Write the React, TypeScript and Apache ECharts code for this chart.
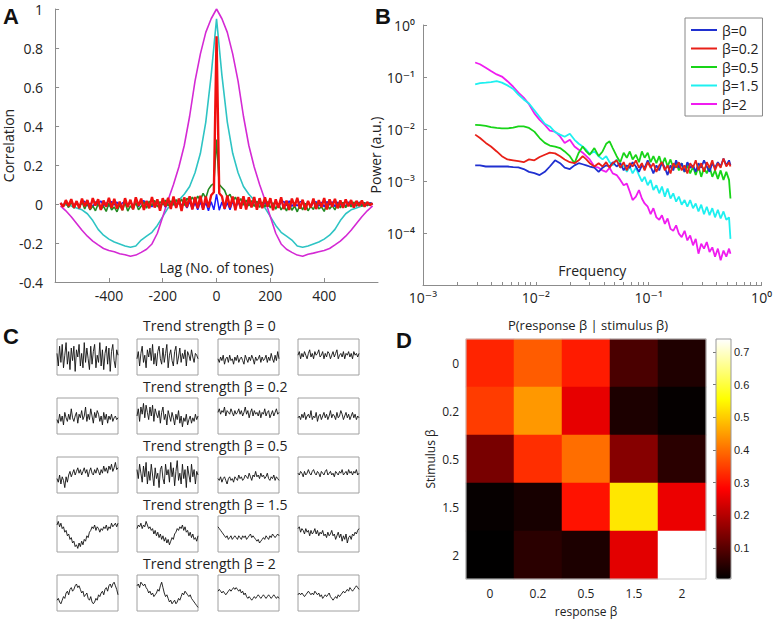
import React, { useEffect, useRef } from 'react';
import * as echarts from 'echarts';

// ---------- Panel A: autocorrelation ----------
const lagsCoarse = [
  -580, -560, -540, -520, -500, -480, -460, -440, -420, -400,
  -380, -360, -340, -320, -300, -280, -260, -240, -220, -200,
  -180, -160, -140, -120, -100, -80, -60, -40, -20,
  0,
  20, 40, 60, 80, 100, 120, 140, 160, 180,
  200, 220, 240, 260, 280, 300, 320, 340, 360, 380,
  400, 420, 440, 460, 480, 500, 520, 540, 560, 580,
];
const lagsFine = [
  -580, -570, -560, -550, -540, -530, -520, -510, -500, -490,
  -480, -470, -460, -450, -440, -430, -420, -410, -400, -390,
  -380, -370, -360, -350, -340, -330, -320, -310, -300, -290,
  -280, -270, -260, -250, -240, -230, -220, -210, -200, -190,
  -180, -170, -160, -150, -140, -130, -120, -110, -100, -90,
  -80, -70, -60, -50, -40, -30, -20, -10,
  0,
  10, 20, 30, 40, 50, 60, 70, 80,
  90, 100, 110, 120, 130, 140, 150, 160, 170, 180,
  190, 200, 210, 220, 230, 240, 250, 260, 270, 280,
  290, 300, 310, 320, 330, 340, 350, 360, 370, 380,
  390, 400, 410, 420, 430, 440, 450, 460, 470, 480,
  490, 500, 510, 520, 530, 540, 550, 560, 570, 580,
];
const acfBeta2 = [
  -0.010, -0.035, -0.065, -0.100, -0.135, -0.165, -0.190, -0.210, -0.228, -0.238,
  -0.245, -0.255, -0.260, -0.268, -0.262, -0.248, -0.232, -0.205, -0.150, -0.065,
  0.020, 0.100, 0.190, 0.300, 0.450, 0.630, 0.770, 0.880, 0.950,
  1.0,
  0.950, 0.880, 0.770, 0.630, 0.450, 0.300, 0.190, 0.100, 0.020,
  -0.065, -0.150, -0.205, -0.232, -0.248, -0.262, -0.268, -0.258, -0.252, -0.245,
  -0.238, -0.228, -0.210, -0.190, -0.165, -0.135, -0.100, -0.065, -0.035, -0.010,
];
const acfBeta15 = [
  0.000, -0.005, -0.010, -0.020, -0.030, -0.050, -0.085, -0.130, -0.160, -0.180,
  -0.195, -0.205, -0.215, -0.222, -0.215, -0.185, -0.165, -0.145, -0.110, -0.065,
  -0.020, 0.000, 0.020, 0.050, 0.090, 0.160, 0.260, 0.420, 0.660,
  0.950,
  0.660, 0.420, 0.260, 0.160, 0.090, 0.050, 0.020, 0.000, -0.020,
  -0.065, -0.110, -0.145, -0.165, -0.185, -0.215, -0.222, -0.215, -0.205, -0.195,
  -0.180, -0.160, -0.130, -0.085, -0.050, -0.030, -0.020, -0.010, -0.005, 0.000,
];
const acfBeta0 = [
  0.005, -0.010, 0.012, -0.004, 0.015, -0.008, 0.010, -0.012, 0.006, 0.014,
  -0.010, 0.004, -0.015, 0.011, -0.003, 0.016, -0.009, 0.007, -0.012, 0.013,
  -0.005, 0.010, -0.014, 0.006, 0.012, -0.008, 0.015, -0.011, 0.004, -0.013,
  0.009, 0.017, -0.006, 0.011, -0.015, 0.005, 0.013, -0.010, 0.008, -0.016,
  0.012, -0.004, 0.010, -0.018, 0.014, -0.007, 0.009, -0.020, 0.012, -0.025,
  0.006, -0.030, 0.010, -0.028, 0.008, -0.035, 0.012, -0.030,
  0.05,
  -0.032, 0.010, -0.027, 0.007, -0.030, 0.013, -0.022, 0.009,
  -0.018, 0.015, -0.010, 0.006, -0.014, 0.012, -0.006, 0.016, -0.011, 0.008,
  -0.013, 0.014, -0.004, 0.010, -0.015, 0.007, 0.013, -0.009, 0.016, -0.012,
  0.005, -0.010, 0.011, 0.015, -0.007, 0.010, -0.014, 0.006, 0.012, -0.011,
  0.009, -0.015, 0.013, -0.005, 0.011, -0.013, 0.010, -0.007, 0.008, -0.012,
  0.011, -0.009, 0.006, -0.011, 0.010, -0.007, 0.008, -0.009, 0.006, 0.002,
];
const acfBeta05 = [
  0.004, -0.012, 0.008, -0.018, 0.010, -0.022, 0.006, -0.015, 0.012, -0.025,
  0.005, -0.030, -0.010, -0.035, 0.000, -0.028, -0.012, -0.038, 0.004, -0.030,
  -0.015, -0.040, -0.005, -0.032, 0.006, -0.036, -0.010, -0.025, 0.008, -0.030,
  -0.012, 0.010, -0.022, 0.015, -0.008, 0.018, -0.015, 0.012, -0.004, 0.020,
  -0.010, 0.016, -0.006, 0.022, 0.000, 0.025, -0.008, 0.030, 0.012, 0.035,
  0.010, 0.040, 0.020, 0.055, 0.030, 0.075, 0.095, 0.105,
  0.33,
  0.100, 0.085, 0.070, 0.035, 0.050, 0.015, 0.035, 0.005,
  0.028, -0.006, 0.020, -0.010, 0.018, -0.012, 0.014, -0.018, 0.010, -0.015,
  0.012, -0.020, 0.006, -0.026, 0.004, -0.030, -0.008, -0.036, 0.002, -0.032,
  -0.010, -0.040, -0.004, -0.030, 0.004, -0.035, -0.012, -0.028, 0.006, -0.025,
  -0.015, -0.038, 0.002, -0.026, -0.008, -0.030, 0.005, -0.020, 0.008, -0.018,
  0.006, -0.014, 0.010, -0.010, 0.008, -0.012, 0.006, -0.008, 0.004, 0.000,
];
const acfBeta02 = [
  0.006, -0.015, 0.020, -0.010, 0.025, -0.018, 0.015, -0.022, 0.028, -0.012,
  0.020, -0.026, 0.030, -0.008, 0.024, -0.030, 0.018, -0.014, 0.032, -0.020,
  0.026, -0.024, 0.012, -0.032, 0.030, -0.016, 0.022, -0.028, 0.034, -0.010,
  0.028, -0.030, 0.016, -0.022, 0.036, -0.018, 0.024, -0.034, 0.030, -0.012,
  0.032, -0.026, 0.038, -0.020, 0.028, -0.036, 0.034, -0.016, 0.040, -0.028,
  0.036, -0.022, 0.042, -0.030, 0.038, -0.018, 0.045, 0.060,
  0.86,
  0.055, 0.040, -0.025, 0.044, -0.018, 0.038, -0.032, 0.036,
  -0.024, 0.040, -0.028, 0.034, -0.018, 0.036, -0.030, 0.030, -0.022, 0.034,
  -0.014, 0.030, -0.032, 0.024, -0.020, 0.034, -0.026, 0.018, -0.030, 0.028,
  -0.012, 0.032, -0.024, 0.022, -0.030, 0.016, -0.018, 0.028, -0.026, 0.020,
  -0.016, 0.030, -0.028, 0.024, -0.014, 0.026, -0.022, 0.018, -0.020, 0.024,
  -0.012, 0.020, -0.018, 0.016, -0.010, 0.018, -0.014, 0.010, -0.006, 0.004,
];

// ---------- Panel B: power spectra ----------
const freqs = [
  0.0029, 0.0032, 0.0036, 0.0040, 0.0045, 0.0050, 0.0056, 0.0063, 0.0070, 0.0078,
  0.0087, 0.0097, 0.0108, 0.012, 0.0133, 0.0148, 0.0164, 0.018, 0.020, 0.022,
  0.024, 0.026, 0.028, 0.030, 0.033, 0.036, 0.039, 0.042, 0.045, 0.048,
  0.052, 0.056, 0.060, 0.064, 0.068, 0.072, 0.077, 0.082, 0.087, 0.092,
  0.098, 0.104, 0.11, 0.117, 0.124, 0.131, 0.139, 0.147, 0.156, 0.165,
  0.175, 0.185, 0.196, 0.208, 0.22, 0.233, 0.247, 0.261, 0.276, 0.292,
  0.309, 0.327, 0.346, 0.366, 0.387, 0.41, 0.434, 0.46, 0.487, 0.515, 0.53,
];
const powBeta2 = [
  0.19, 0.176, 0.151, 0.13, 0.112, 0.102, 0.083, 0.065, 0.050, 0.040,
  0.030, 0.020, 0.015, 0.012, 0.0093, 0.0089, 0.0072, 0.0054, 0.0062, 0.0046,
  0.0040, 0.0035, 0.0030, 0.0026, 0.0019, 0.0018, 0.0016, 0.0015, 0.0018, 0.0014,
  0.0013, 0.00105, 0.00083, 0.00089, 0.00062, 0.00043, 0.00050, 0.00067, 0.00046, 0.00037,
  0.00032, 0.00023, 0.00030, 0.00020, 0.00018, 0.00022, 0.00015, 0.00019, 0.00012, 0.00011,
  0.00014, 9.7e-5, 8.3e-5, 1.1e-4, 7.2e-5, 9.0e-5, 5.8e-5, 7.7e-5, 4.0e-5, 6.2e-5,
  5.0e-5, 6.7e-5, 4.3e-5, 5.3e-5, 3.5e-5, 5.0e-5, 3.0e-5, 4.6e-5, 3.5e-5, 5.0e-5, 4.0e-5,
];
const powBeta15 = [
  0.072, 0.076, 0.078, 0.080, 0.083, 0.078, 0.069, 0.059, 0.046, 0.037,
  0.031, 0.023, 0.017, 0.0126, 0.0112, 0.0087, 0.0078, 0.0071, 0.0081, 0.0062,
  0.0052, 0.0046, 0.0040, 0.0033, 0.0037, 0.0030, 0.0026, 0.0030, 0.0023, 0.0020,
  0.0026, 0.0018, 0.0020, 0.0015, 0.0019, 0.0014, 0.0018, 0.0013, 0.00098, 0.0012,
  0.00083, 0.00105, 0.00067, 0.00083, 0.00058, 0.00078, 0.00050, 0.00072, 0.00046, 0.00058,
  0.00040, 0.00050, 0.00035, 0.00043, 0.00032, 0.00043, 0.00030, 0.00037, 0.00026, 0.00035,
  0.00023, 0.00032, 0.00022, 0.00030, 0.00020, 0.00028, 0.00019, 0.00026, 0.00018, 0.00020, 7.7e-5,
];
const powBeta05 = [
  0.012, 0.0119, 0.0115, 0.0109, 0.0105, 0.0103, 0.0103, 0.0106, 0.0112, 0.0112,
  0.0105, 0.0089, 0.0067, 0.0054, 0.0048, 0.0046, 0.0043, 0.0037, 0.0030, 0.0022,
  0.0035, 0.0046, 0.0037, 0.0032, 0.0043, 0.0030, 0.0037, 0.0052, 0.0058, 0.0043,
  0.0030, 0.0023, 0.0035, 0.0028, 0.0037, 0.0026, 0.0032, 0.0023, 0.0037, 0.0028,
  0.0035, 0.0023, 0.0030, 0.0022, 0.0030, 0.0020, 0.0028, 0.0019, 0.0026, 0.0018,
  0.0023, 0.0016, 0.0022, 0.0015, 0.0020, 0.0014, 0.0019, 0.0013, 0.0019, 0.0012,
  0.0018, 0.0014, 0.0019, 0.0012, 0.0016, 0.0011, 0.0016, 0.00105, 0.0015, 0.00105, 0.00046,
];
const powBeta02 = [
  0.0078, 0.0067, 0.0054, 0.0046, 0.0037, 0.0030, 0.0026, 0.0025, 0.0024, 0.0023,
  0.0026, 0.0025, 0.0029, 0.0032, 0.0035, 0.0034, 0.0030, 0.0026, 0.0023, 0.0022,
  0.0025, 0.0030, 0.0026, 0.0022, 0.0019, 0.0022, 0.0019, 0.0023, 0.0018, 0.0022,
  0.0025, 0.0018, 0.0023, 0.0016, 0.0022, 0.0019, 0.0025, 0.0018, 0.0022, 0.0016,
  0.0023, 0.0018, 0.0022, 0.0015, 0.0020, 0.0023, 0.0016, 0.0020, 0.0014, 0.0022,
  0.0018, 0.0023, 0.0016, 0.0020, 0.0014, 0.0022, 0.0018, 0.0025, 0.0016, 0.0022,
  0.0015, 0.0023, 0.0018, 0.0025, 0.0016, 0.0022, 0.0018, 0.0027, 0.0019, 0.0023, 0.0019,
];
const powBeta0 = [
  0.0020, 0.0020, 0.0019, 0.0019, 0.0019, 0.0019, 0.0019, 0.00185, 0.00183, 0.0017,
  0.0015, 0.00142, 0.0013, 0.0015, 0.0019, 0.0025, 0.0022, 0.0018, 0.0017, 0.0020,
  0.0022, 0.0021, 0.0020, 0.0019, 0.0018, 0.0015, 0.0018, 0.0020, 0.0019, 0.0023,
  0.0019, 0.0022, 0.0016, 0.0020, 0.0018, 0.0023, 0.0019, 0.0015, 0.0020, 0.0018,
  0.0025, 0.0019, 0.0014, 0.0020, 0.0016, 0.0023, 0.0018, 0.0013, 0.0020, 0.0016,
  0.0025, 0.0018, 0.0022, 0.0015, 0.0023, 0.0018, 0.0020, 0.0015, 0.0022, 0.0018,
  0.0025, 0.0019, 0.0015, 0.0022, 0.0018, 0.0023, 0.0019, 0.0027, 0.0020, 0.0025, 0.0020,
];
const freqMinorTicks = [
  0.001, 0.002, 0.003, 0.004, 0.005, 0.006, 0.007, 0.008, 0.009,
  0.01, 0.02, 0.03, 0.04, 0.05, 0.06, 0.07, 0.08, 0.09,
  0.1, 0.2, 0.3, 0.4, 0.5, 0.6, 0.7, 0.8, 0.9, 1,
];
const betaNames = ['β=0', 'β=0.2', 'β=0.5', 'β=1.5', 'β=2'];

// ---------- Panel C: example sequences ----------
const trendTitles = [
  'Trend strength β = 0',
  'Trend strength β = 0.2',
  'Trend strength β = 0.5',
  'Trend strength β = 1.5',
  'Trend strength β = 2',
];
const seqBeta0 = [
  [2, -5, 6, -3, 7, -6, 1, 8, -4, 3, -7, 5, -2, 6, -8, 4, 0, 7, -5, 2, -6, 8, -3, 5, -1, -7, 6, -4, 3, 7, -6, 1, -3, 8, -5, 4, -7, 2, 6, -4, 5, -8, 3, 7, -2, -6, 4, 1],
  [-1, 3, -5, 2, 6, -3, 1, -6, 4, 0, 5, -2, 7, -4, 2, -5, 3, 6, -1, -4, 5, -3, 2, 7, -6, 1, 4, -2, -5, 3, 6, -4, 0, 5, -3, 2, -1, 4, -5, 3, 1, -2, 4, 0, -3, 2, 1, -1],
  [-1, -3, 0, -2, 1, -4, -1, 0, -3, 1, -2, -1, -4, 0, -2, 1, -3, -1, 0, -2, -4, 1, -1, -3, 0, -2, 1, -1, -4, 0, -2, -1, 1, -3, 0, -2, -1, 1, -3, 0, -2, 2, -1, -3, 1, -2, 3, -1],
  [1, 3, -1, 2, 0, 3, 1, -1, 2, 4, 0, 2, -1, 3, 1, 2, 4, 0, 1, 3, -1, 2, 0, 3, 2, -1, 1, 3, 0, 2, 4, -1, 1, 2, 0, 3, -1, 2, 1, 3, 0, 2, -1, 3, 1, 2, 0, 2],
];
const seqBeta02 = [
  [-2, -4, 1, -3, 0, -5, 2, -1, -3, 1, -2, 4, -1, -3, 0, 2, -4, 1, -1, 3, -2, 0, 5, -3, 1, -2, 4, 0, -4, 2, -1, 3, 1, -3, 0, -5, 2, -2, 1, -4, 0, -2, 1, -3, -1, 0, -2, -1],
  [0, 4, -3, 5, 1, 7, -1, 6, 2, -2, 5, 0, 6, -3, 4, 1, -1, 3, -4, 2, 5, -2, 1, -5, 3, 0, -3, 2, -1, -5, 1, -2, 3, -4, 0, -6, -1, -3, 1, -5, -2, 0, -4, -1, -3, 1, -2, 0],
  [2, 4, 1, 3, 2, 5, 0, 3, 2, 1, 4, 2, 0, 3, 1, 2, 4, 1, 3, 0, 2, 5, 1, 3, -1, 2, 4, 0, 3, 1, 2, 0, 3, -1, 2, 1, 4, 0, 2, 3, -1, 1, 3, 0, 2, 4, 1, 2],
  [-1, 0, -2, 1, -1, 2, -2, 0, 1, -1, 3, -2, 0, -1, 2, -3, 0, 1, -2, 0, 2, -1, 1, -2, 0, 3, -1, 1, 0, -2, 2, -1, 0, 3, 1, -2, 0, 2, -1, 1, -2, 0, 2, -1, 1, -2, 0, -1],
];
const seqBeta05 = [
  [-2, -4, 0, -5, -1, -3, -7, -1, -4, 0, 2, -1, 1, 3, 0, 2, 4, 1, 3, 0, 2, 4, 1, 3, -1, 2, 4, 1, 0, 3, 1, 4, 2, 0, 3, 1, 5, 2, 4, 1, 5, 3, 6, 2, 4, 7, 3, 4],
  [3, -2, 6, 1, -4, 5, -1, 7, -5, 2, -3, 6, 0, -6, 4, -2, 1, -7, 3, 5, -2, -5, 6, 0, 3, -4, 7, -1, 4, -6, 2, 8, -3, 1, -5, 6, -2, 3, -7, 5, 0, -4, 6, -1, 3, -5, 2, 0],
  [-2, -3, -1, -4, -2, -1, -3, -5, -2, -1, -3, -2, -4, -1, -2, -3, 0, -2, -1, -3, -2, 0, -1, -2, 1, -1, -3, 0, -1, 2, -1, 0, -2, 1, -1, 0, -2, -1, 1, -2, -3, -1, -2, 0, -3, -1, -2, -3],
  [1, 0, 2, 1, -1, 2, 0, 1, 3, 1, 0, 2, 3, 1, 0, 2, 1, -1, 2, 1, 0, 2, 3, 0, 1, 2, 0, 1, -1, 2, 1, 0, 2, 1, 3, 0, 1, 2, 0, 3, 1, 2, 0, 2, 1, 3, 0, 1],
];
const seqBeta15 = [
  [5, 7, 4, 6, 3, 4, 1, 2, -1, 0, -3, -2, -5, -4, -7, -6, -8, -5, -7, -4, -6, -3, -4, -1, -2, 1, 2, 4, 3, 5, 2, 4, 3, 1, 3, 2, 4, 3, 5, 2, 4, 3, 6, 4, 5, 6, 4, 6],
  [3, 5, 4, 6, 3, 5, 4, 7, 5, 3, 4, 2, 3, 0, 2, -1, 1, -2, 0, -3, -1, -4, -2, -5, -3, -6, -4, -2, -3, 0, 1, 3, 2, 4, 3, 5, 2, 4, 1, 2, -1, 1, -2, 0, -3, -2, -4, -1],
  [4, 3, 2, 1, 0, -1, -2, -1, -3, -2, -1, -3, -2, -1, -2, -3, -1, -2, -3, -1, -2, -1, -3, -2, -1, 0, -2, -1, -2, -3, -4, -3, -5, -4, -3, -2, -3, -1, -2, -3, -1, -2, 0, -1, -2, -1, 0, -1],
  [3, 4, 1, 3, 2, 0, 3, 1, 2, -1, 2, 0, 1, 3, 0, 2, -1, 1, 0, 2, -1, 0, -2, 1, -1, 0, 2, -1, 0, -3, -1, 1, -2, 0, -4, -1, -3, 0, -5, -2, -1, -3, 0, -1, 1, 0, 2, 3],
];
const seqBeta2 = [
  [-4, -3, -5, -6, -4, -2, -3, 0, 1, -1, 2, 3, 1, 2, 4, 5, 3, 4, 2, 0, 1, -2, -1, 0, -3, -4, -2, -5, -6, -5, -3, -4, -1, -2, 0, 1, -1, 2, 3, 1, 4, 5, 3, 5, 6, 4, 2, -1],
  [4, 5, 3, 6, 5, 4, 5, 3, 2, 0, 1, -1, 0, -2, -1, 0, 2, 1, 4, 6, 3, 0, -2, -1, -3, -5, -4, -6, -5, -4, -6, -5, -3, -4, -2, 0, -1, 1, 0, -1, -2, -1, -3, -4, -5, -6, -7, -8],
  [1, 2, 1, 0, 1, 0, -1, 0, 1, 2, 1, 2, 3, 2, 3, 2, 1, 2, 0, 1, -1, 0, -2, -3, -2, -3, -4, -3, -2, -3, -2, -1, -2, -3, -2, -1, -2, -3, -2, -1, -2, -3, -2, -1, -2, -3, -2, -3],
  [-1, 0, -1, 0, -1, -2, -1, 0, 1, 0, -1, 0, -1, 1, 0, -1, 0, -2, -1, -3, -2, -1, -2, -1, 0, -2, -3, -4, -3, -2, -3, -1, -2, -1, 0, 1, 0, 1, 2, 1, 3, 2, 1, 2, 3, 4, 3, 2],
];

// ---------- Panel D: confusion matrix ----------
const responseLabels = ['0', '0.2', '0.5', '1.5', '2'];
const stimulusLabels = ['0', '0.2', '0.5', '1.5', '2'];
const probStim0 = [0.32, 0.38, 0.31, 0.085, 0.038];
const probStim02 = [0.345, 0.445, 0.255, 0.035, 0.01];
const probStim05 = [0.135, 0.33, 0.40, 0.15, 0.05];
const probStim15 = [0.012, 0.03, 0.30, 0.53, 0.26];
const probStim2 = [0.006, 0.05, 0.035, 0.25, 0.74];
const colorbarTicks = [0.1, 0.2, 0.3, 0.4, 0.5, 0.6, 0.7];

const FONT = '"Open Sans", "DejaVu Sans", sans-serif';
const AX = '#8c8c8c';
const TXT = '#222';
const HOT = ['#000000', '#550000', '#aa0000', '#ff0000', '#ff5500', '#ffaa00', '#ffff00', '#ffff80', '#ffffff'];

const SUP: Record<string, string> = { '-': '⁻', '0': '⁰', '1': '¹', '2': '²', '3': '³', '4': '⁴', '5': '⁵', '6': '⁶', '7': '⁷', '8': '⁸', '9': '⁹' };
function supLabel(v: number) {
  const e = Math.round(Math.log10(v));
  return '10' + String(e).split('').map((c) => SUP[c] || c).join('');
}

function buildOption() {
  const grids: any[] = [];
  const xAxes: any[] = [];
  const yAxes: any[] = [];
  const series: any[] = [];

  // Panel A
  grids.push({ left: 54, top: 9, width: 324, height: 273 });
  xAxes.push({
    type: 'value', gridIndex: 0, min: -600, max: 600, interval: 200,
    axisLine: { show: true, onZero: false, lineStyle: { color: AX } },
    axisTick: { show: true, inside: true, length: 4, lineStyle: { color: AX } },
    axisLabel: { fontSize: 14, color: TXT, margin: 6, showMinLabel: false, showMaxLabel: false, fontFamily: FONT },
    splitLine: { show: false },
    name: 'Lag (No. of tones)', nameLocation: 'middle', nameGap: -22,
    nameTextStyle: { fontSize: 14, color: TXT, fontFamily: FONT },
  });
  yAxes.push({
    type: 'value', gridIndex: 0, min: -0.4, max: 1, interval: 0.2,
    axisLine: { show: true, onZero: false, lineStyle: { color: AX } },
    axisTick: { show: true, inside: true, length: 4, lineStyle: { color: AX } },
    axisLabel: { fontSize: 14, color: TXT, margin: 12, fontFamily: FONT },
    splitLine: { show: false },
    name: 'Correlation', nameLocation: 'middle', nameGap: 34,
    nameTextStyle: { fontSize: 14, color: TXT, fontFamily: FONT },
  });
  const aLine = (name: string, lags: number[], vals: number[], color: string, width: number) => ({
    type: 'line', name, xAxisIndex: 0, yAxisIndex: 0, symbol: 'none', showSymbol: false,
    lineStyle: { color, width }, itemStyle: { color },
    data: lags.map((l, i) => [l, vals[i]]),
  });
  series.push(aLine('A β=1.5', lagsCoarse, acfBeta15, '#2ec4c4', 1.6));
  series.push(aLine('A β=2', lagsCoarse, acfBeta2, '#d42ad4', 1.6));
  series.push(aLine('A β=0', lagsFine, acfBeta0, '#1a1aff', 1.5));
  series.push(aLine('A β=0.5', lagsFine, acfBeta05, '#238b23', 1.6));
  series.push(aLine('A β=0.2', lagsFine, acfBeta02, '#f01010', 2.4));

  // Panel B
  grids.push({ left: 423, top: 25, width: 346, height: 260 });
  xAxes.push({
    type: 'log', gridIndex: 1, min: 0.001, max: 1, logBase: 10,
    axisLine: { show: true, onZero: false, lineStyle: { color: AX } },
    axisTick: { show: true, inside: true, length: 3, lineStyle: { color: AX }, customValues: freqMinorTicks },
    axisLabel: { fontSize: 14, color: TXT, margin: 5, formatter: supLabel, fontFamily: FONT },
    splitLine: { show: false },
    name: 'Frequency', nameLocation: 'middle', nameGap: -22,
    nameTextStyle: { fontSize: 14, color: TXT, fontFamily: FONT },
  });
  yAxes.push({
    type: 'log', gridIndex: 1, min: 0.00001, max: 1, logBase: 10,
    axisLine: { show: true, onZero: false, lineStyle: { color: AX } },
    axisTick: { show: true, inside: true, length: 4, lineStyle: { color: AX } },
    axisLabel: { fontSize: 14, color: TXT, margin: 8, formatter: supLabel, fontFamily: FONT, showMinLabel: false },
    splitLine: { show: false },
    name: 'Power (a.u.)', nameLocation: 'middle', nameGap: 38,
    nameTextStyle: { fontSize: 14, color: TXT, fontFamily: FONT },
  });
  const bLine = (name: string, vals: number[], color: string) => ({
    type: 'line', name, xAxisIndex: 1, yAxisIndex: 1, symbol: 'none', showSymbol: false,
    lineStyle: { color, width: 1.8 }, itemStyle: { color },
    data: freqs.map((f, i) => [f, vals[i]]),
  });
  series.push(bLine('β=2', powBeta2, '#f01cf0'));
  series.push(bLine('β=1.5', powBeta15, '#1ef0f0'));
  series.push(bLine('β=0.5', powBeta05, '#18d418'));
  series.push(bLine('β=0', powBeta0, '#2030d0'));
  series.push(bLine('β=0.2', powBeta02, '#e82018'));

  // Panel C
  const rows = [seqBeta0, seqBeta02, seqBeta05, seqBeta15, seqBeta2];
  const colLeft = [57, 137, 218, 298];
  const rowTop = [339, 398, 457, 516, 575];
  rows.forEach((row, r) => {
    row.forEach((seq, c) => {
      const g = grids.length;
      grids.push({ left: colLeft[c], top: rowTop[r], width: 61, height: 36, show: true, borderColor: '#a0a0a0', borderWidth: 1, backgroundColor: '#fff' });
      xAxes.push({ type: 'value', gridIndex: g, min: 0, max: seq.length - 1, show: false });
      yAxes.push({ type: 'value', gridIndex: g, min: -10, max: 10, show: false });
      series.push({
        type: 'line', name: 'C' + r + c, xAxisIndex: g, yAxisIndex: g, symbol: 'none', showSymbol: false,
        lineStyle: { color: '#111', width: 0.9 },
        data: seq.map((v, i) => [i, v]),
      });
    });
  });

  // Panel D
  const gD = grids.length;
  grids.push({ left: 466, top: 339, width: 240, height: 240 });
  xAxes.push({
    type: 'category', gridIndex: gD, data: responseLabels,
    axisLine: { show: false }, axisTick: { show: false },
    axisLabel: { fontSize: 12, color: TXT, margin: 8, fontFamily: FONT },
    splitLine: { show: false },
    name: 'response β', nameLocation: 'middle', nameGap: 26,
    nameTextStyle: { fontSize: 12, color: TXT, fontFamily: FONT },
  });
  yAxes.push({
    type: 'category', gridIndex: gD, data: stimulusLabels, inverse: true,
    axisLine: { show: false }, axisTick: { show: false },
    axisLabel: { fontSize: 12, color: TXT, margin: 7, fontFamily: FONT },
    splitLine: { show: false },
    name: 'Stimulus β', nameLocation: 'middle', nameGap: 30,
    nameTextStyle: { fontSize: 12, color: TXT, fontFamily: FONT },
  });
  const probRows = [probStim0, probStim02, probStim05, probStim15, probStim2];
  const heatData: number[][] = [];
  probRows.forEach((row, y) => row.forEach((v, x) => heatData.push([x, y, v])));
  const heatIndex = series.length;
  series.push({
    type: 'heatmap', name: 'P', xAxisIndex: gD, yAxisIndex: gD, data: heatData,
    itemStyle: { borderWidth: 0 }, emphasis: { disabled: true },
  });

  // colourbar axis
  const gCB = grids.length;
  grids.push({ left: 716, top: 339, width: 15, height: 240 });
  xAxes.push({ type: 'value', gridIndex: gCB, min: 0, max: 1, show: false });
  yAxes.push({
    type: 'value', gridIndex: gCB, position: 'right', min: 0.005, max: 0.74,
    axisLine: { show: false },
    axisTick: { show: true, inside: true, length: 3, lineStyle: { color: '#777' }, customValues: colorbarTicks },
    axisLabel: { fontSize: 11, color: TXT, margin: 3, customValues: colorbarTicks, formatter: (v: number) => v.toFixed(1), fontFamily: '"Liberation Sans", Arial, sans-serif' },
    splitLine: { show: false },
  });

  const letter = (t: string, x: number, y: number) => ({
    type: 'text', x, y, z: 100,
    style: { text: t, fill: '#111', font: 'bold 22px "Liberation Sans", Arial, sans-serif', align: 'left', verticalAlign: 'middle' },
  });
  const titleCenters = [325, 386, 445, 504, 563];
  const graphic: any[] = [
    letter('A', 3, 16),
    letter('B', 375, 16),
    letter('C', 3, 336),
    letter('D', 396, 340),
    ...trendTitles.map((t, i) => ({
      type: 'text', x: 143, y: titleCenters[i], z: 100,
      style: { text: t, fill: TXT, fontSize: 14, fontFamily: FONT, align: 'left', verticalAlign: 'middle' },
    })),
    {
      type: 'text', x: 588, y: 325, z: 100,
      style: { text: 'P(response β | stimulus β)', fill: TXT, fontSize: 13, fontFamily: FONT, align: 'center', verticalAlign: 'middle' },
    },
    { type: 'rect', z: 100, shape: { x: 716, y: 339, width: 15, height: 240 }, style: { fill: 'none', stroke: '#999', lineWidth: 1 } },
    { type: 'rect', z: 100, shape: { x: 466, y: 339, width: 240, height: 240 }, style: { fill: 'none', stroke: '#c8c8c8', lineWidth: 1 } },
  ];

  return {
    animation: false,
    backgroundColor: '#ffffff',
    textStyle: { fontFamily: FONT },
    grid: grids,
    xAxis: xAxes,
    yAxis: yAxes,
    series,
    legend: {
      data: betaNames,
      orient: 'vertical', left: 685, top: 18,
      backgroundColor: '#fff', borderColor: '#888', borderWidth: 1,
      padding: [5, 4, 5, 6], itemGap: 4.5, itemWidth: 26, itemHeight: 2,
      icon: 'rect',
      textStyle: { fontSize: 14, color: TXT, fontFamily: FONT },
      selectedMode: false,
    },
    visualMap: {
      type: 'continuous', seriesIndex: heatIndex, min: 0.005, max: 0.74,
      left: 716, top: 339, itemWidth: 15, itemHeight: 240, padding: 0,
      calculable: false, orient: 'vertical', inRange: { color: HOT },
      textStyle: { fontSize: 0 }, text: ['', ''],
    },
    graphic,
  };
}

export default function App() {
  const ref = useRef<HTMLDivElement>(null);
  useEffect(() => {
    if (!ref.current) return;
    const chart = echarts.init(ref.current, undefined, { renderer: 'svg' });
    chart.setOption(buildOption() as any);
    return () => chart.dispose();
  }, []);
  return (
    <div
      ref={ref}
      style={{ position: 'fixed', left: 0, top: 0, width: 775, height: 621, background: '#fff' }}
    />
  );
}
